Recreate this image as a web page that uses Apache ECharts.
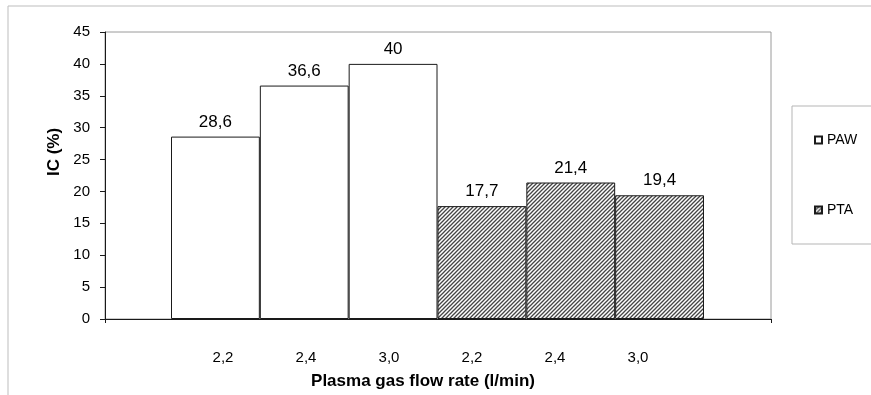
<!DOCTYPE html>
<html>
<head>
<meta charset="utf-8">
<script src="https://cdn.jsdelivr.net/npm/echarts@6/dist/echarts.min.js"></script>
<style>html,body{margin:0;padding:0;background:#fff}#c{width:871px;height:395px}</style>
</head>
<body>
<div id="c"></div>
<script>
const categories = ['2,2', '2,4', '3,0', '2,2', '2,4', '3,0'];
const pawValues = [28.6, 36.6, 40, null, null, null];
const ptaValues = [null, null, null, 17.7, 21.4, 19.4];
const seriesNames = ['PAW', 'PTA'];
const yAxisTitle = 'IC (%)';
const xAxisTitle = 'Plasma gas flow rate (l/min)';

function makeHatch() {
  const c = document.createElement('canvas');
  c.width = 4; c.height = 4;
  const g = c.getContext('2d');
  g.fillStyle = '#ffffff';
  g.fillRect(0, 0, 4, 4);
  g.strokeStyle = '#454545';
  g.lineWidth = 1.3;
  g.beginPath();
  g.moveTo(0, 4); g.lineTo(4, 0);
  g.moveTo(-1, 1); g.lineTo(1, -1);
  g.moveTo(3, 5); g.lineTo(5, 3);
  g.stroke();
  return c;
}
const hatch = { image: makeHatch(), repeat: 'repeat' };
const FONT = '"Liberation Sans", Arial, sans-serif';
const fmt = p => String(p.value).replace('.', ',');

const chart = echarts.init(document.getElementById('c'), null, { renderer: 'canvas' });
chart.setOption({
  backgroundColor: '#fff',
  animation: false,
  textStyle: { fontFamily: FONT, color: '#000' },
  graphic: [{
    type: 'rect', left: 5.5, top: 3.5, z: -10,
    shape: { width: 1000, height: 600 },
    style: { fill: 'none', stroke: '#bdbdbd', lineWidth: 1 }
  }],
  legend: {
    data: seriesNames,
    orient: 'vertical',
    left: 792, top: 106,
    borderColor: '#b5b5b5', borderWidth: 1,
    padding: [26, 80, 26, 22],
    itemWidth: 7, itemHeight: 7, itemGap: 54,
    icon: 'rect',
    textStyle: { fontSize: 14, lineHeight: 16, color: '#000', fontFamily: FONT }
  },
  grid: [
    { left: 105, top: 32, width: 666, height: 287, show: true, borderColor: '#9a9a9a', borderWidth: 1, backgroundColor: 'transparent' },
    { left: 171, top: 32, width: 533, height: 287 },
    { left: 181.5, top: 32, width: 498, height: 287 }
  ],
  xAxis: [
    { gridIndex: 0, type: 'value', min: 0, max: 1, interval: 1,
      axisLine: { show: true, lineStyle: { color: '#1a1a1a', width: 1 } },
      axisTick: { show: true, length: 4, lineStyle: { color: '#1a1a1a' } },
      axisLabel: { show: false }, splitLine: { show: false } },
    { gridIndex: 1, type: 'category', data: categories, boundaryGap: true,
      axisLine: { show: false }, axisTick: { show: false }, axisLabel: { show: false } },
    { gridIndex: 2, type: 'category', data: categories, boundaryGap: true,
      axisLine: { show: false }, axisTick: { show: false },
      axisLabel: { show: true, interval: 0, margin: 34, fontSize: 15, color: '#000', fontFamily: FONT },
      name: xAxisTitle, nameLocation: 'middle', nameGap: 57,
      nameTextStyle: { fontSize: 17, fontWeight: 'bold', color: '#000', fontFamily: FONT, padding: [0, 15, 0, 0] } }
  ],
  yAxis: [
    { gridIndex: 0, type: 'value', min: 0, max: 45, interval: 5,
      axisLine: { show: true, lineStyle: { color: '#1a1a1a', width: 1 } },
      axisTick: { show: true, length: 5, lineStyle: { color: '#1a1a1a' } },
      axisLabel: { fontSize: 15, color: '#000', margin: 15, fontFamily: FONT },
      splitLine: { show: false },
      name: yAxisTitle, nameLocation: 'middle', nameGap: 37, nameRotate: 90,
      nameTextStyle: { fontSize: 17, fontWeight: 'bold', color: '#000', fontFamily: FONT, padding: [0, 0, 0, 47] } },
    { gridIndex: 1, type: 'value', min: 0, max: 45, interval: 5, show: false },
    { gridIndex: 2, type: 'value', min: 0, max: 45, interval: 5, show: false }
  ],
  series: [
    { name: seriesNames[0], type: 'bar', xAxisIndex: 1, yAxisIndex: 1, stack: 'all',
      data: pawValues, barCategoryGap: '0%',
      itemStyle: { color: '#ffffff', borderColor: '#1a1a1a', borderWidth: 1 },
      label: { show: true, position: 'top', distance: 6, fontSize: 17, color: '#000', fontFamily: FONT, formatter: fmt } },
    { name: seriesNames[1], type: 'bar', xAxisIndex: 1, yAxisIndex: 1, stack: 'all',
      data: ptaValues, barCategoryGap: '0%',
      itemStyle: { color: hatch, borderColor: '#1a1a1a', borderWidth: 1 },
      label: { show: true, position: 'top', distance: 6, fontSize: 17, color: '#000', fontFamily: FONT, formatter: fmt } }
  ]
});
</script>
</body>
</html>
